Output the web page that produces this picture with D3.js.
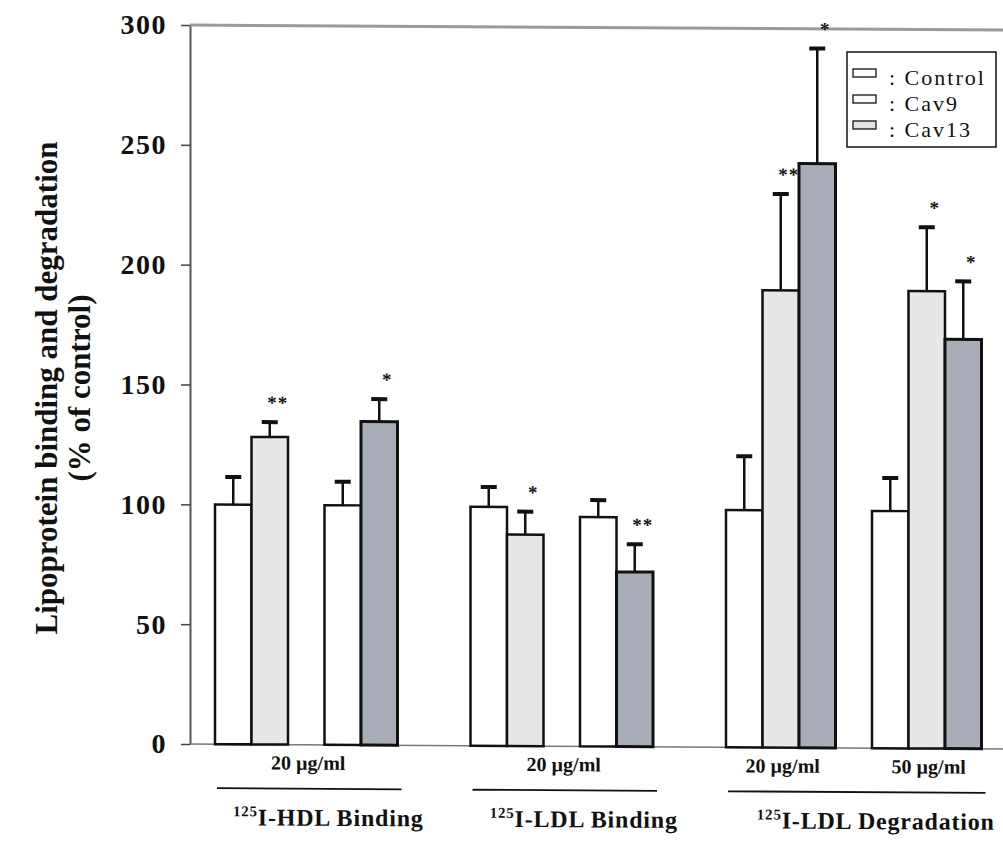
<!DOCTYPE html>
<html>
<head>
<meta charset="utf-8">
<script src="https://cdn.jsdelivr.net/npm/d3@7"></script>
<style>
  body { margin: 0; background: #fff; }
  text { font-family: "Liberation Serif", "Times New Roman", serif; }
</style>
</head>
<body>
<svg id="chart" width="1003" height="845"></svg>
<script>
// ---- data ----
const seriesNames = ["Control", "Cav9", "Cav13"];
const assayNames = ["HDL Binding", "LDL Binding", "LDL Degradation"];
// each cluster of adjacent bars: its assay, dose and the series it shows
const clusterAssay = [0, 0, 1, 1, 2, 2];
const clusterDose = ["20 µg/ml", "20 µg/ml", "20 µg/ml", "20 µg/ml", "20 µg/ml", "50 µg/ml"];
const clusterSeries = [[0, 1], [0, 2], [0, 1], [0, 2], [0, 1, 2], [0, 1, 2]];
// % of control, mean and SD
const clusterMeans = [[100, 128.3], [100, 135], [99.7, 88.2], [95.7, 72.9], [99, 190.8, 243.8], [99, 190.8, 170.8]];
const clusterErrors = [[11.5, 6.2], [9.8, 9.4], [8.3, 9.6], [7.1, 11.6], [22.5, 40.2, 48], [13.8, 26.7, 24.2]];
const clusterSig = [["", "**"], ["", "*"], ["", "*"], ["", "**"], ["", "**", "*"], ["", "*", "*"]];
const yTicks = [0, 50, 100, 150, 200, 250, 300];

// ---- styles ----
const seriesFill = ["#ffffff", "#e7e7e7", "#a9adb7"];
const legendFill = ["#ffffff", "#fbfbfb", "#e2e2e2"];

const svg = d3.select("#chart");
svg.append("rect").attr("width", 1003).attr("height", 845).attr("fill", "#fff");

const y = d3.scaleLinear().domain([0, 300]).range([744, 25]);

// bar slots: one unit per bar, one empty unit between clusters of an assay,
// two between assays
const bars = [];
const clusters = [];
let slot = 0;
clusterSeries.forEach((ser, c) => {
  if (c > 0) slot += clusterAssay[c] === clusterAssay[c - 1] ? 1 : 2;
  const start = slot;
  ser.forEach((s, i) => {
    bars.push({
      slot: slot, series: s,
      mean: clusterMeans[c][i], err: clusterErrors[c][i], sig: clusterSig[c][i]
    });
    slot += 1;
  });
  clusters.push({ start: start, end: slot, assay: clusterAssay[c], dose: clusterDose[c] });
});
const x = d3.scaleLinear().domain([0, slot]).range([215, 215 + slot * 36.5]);

// ---- y axis ----
const yAxis = svg.append("g")
  .attr("transform", "translate(190,0)")
  .call(d3.axisLeft(y).tickValues(yTicks).tickFormat(d3.format("d"))
    .tickSize(9).tickSizeOuter(0).tickPadding(14));
yAxis.select(".domain").attr("stroke", "#555").attr("stroke-width", 2);
yAxis.selectAll(".tick line").attr("stroke", "#444").attr("stroke-width", 1.5);
yAxis.selectAll(".tick text")
  .attr("fill", "#111")
  .style("font-family", "'Liberation Serif', serif")
  .style("font-size", "28px").style("font-weight", "bold")
  .style("letter-spacing", "1.5px");

// y title
const yTitle = svg.append("g").attr("transform", "translate(0,388) rotate(-90)")
  .style("font-weight", "bold").style("font-size", "31px").attr("fill", "#111")
  .attr("text-anchor", "middle");
yTitle.append("text").attr("x", 0).attr("y", 57).text("Lipoprotein binding and degradation");
yTitle.append("text").attr("x", 0).attr("y", 90).text("(% of control)");

// ---- plot body (slightly skewed like the printed sheet) ----
const plot = svg.append("g")
  .attr("transform", "translate(190,0) skewY(0.35) translate(-190,0)");

// frame top and baseline
plot.append("line").attr("x1", 190).attr("x2", 1003).attr("y1", y(300)).attr("y2", y(300))
  .attr("stroke", "#9a9a9a").attr("stroke-width", 3);
plot.append("line").attr("x1", 190).attr("x2", 1003).attr("y1", y(0)).attr("y2", y(0))
  .attr("stroke", "#777").attr("stroke-width", 1.5);

// bars
plot.selectAll("rect.bar").data(bars).join("rect")
  .attr("class", "bar")
  .attr("x", d => x(d.slot))
  .attr("width", d => x(d.slot + 1) - x(d.slot))
  .attr("y", d => y(d.mean))
  .attr("height", d => y(0) - y(d.mean))
  .attr("fill", d => seriesFill[d.series])
  .attr("stroke", "#111")
  .attr("stroke-width", d => d.series === 2 ? 3 : 2.5);

// error bars
const eb = plot.selectAll("g.err").data(bars).join("g").attr("class", "err");
eb.append("line")
  .attr("x1", d => x(d.slot + 0.5)).attr("x2", d => x(d.slot + 0.5))
  .attr("y1", d => y(d.mean)).attr("y2", d => y(d.mean + d.err))
  .attr("stroke", "#111").attr("stroke-width", 2.5);
eb.append("line")
  .attr("x1", d => x(d.slot + 0.5) - 8).attr("x2", d => x(d.slot + 0.5) + 8)
  .attr("y1", d => y(d.mean + d.err)).attr("y2", d => y(d.mean + d.err))
  .attr("stroke", "#111").attr("stroke-width", 4);

// significance marks
plot.selectAll("text.sig").data(bars.filter(d => d.sig)).join("text")
  .attr("class", "sig")
  .attr("x", d => x(d.slot + 0.5) + 8)
  .attr("y", d => y(d.mean + d.err) - 13)
  .attr("text-anchor", "middle")
  .style("font-size", "19px").style("font-weight", "bold")
  .style("letter-spacing", "1px").attr("fill", "#111")
  .text(d => d.sig);

// dose labels: merge neighbouring clusters with the same assay and dose
const doseGroups = [];
clusters.forEach(c => {
  const last = doseGroups[doseGroups.length - 1];
  if (last && last.assay === c.assay && last.dose === c.dose) last.end = c.end;
  else doseGroups.push({ assay: c.assay, dose: c.dose, start: c.start, end: c.end });
});
plot.selectAll("text.dose").data(doseGroups).join("text")
  .attr("class", "dose")
  .attr("x", d => (x(d.start) + x(d.end)) / 2 + 2)
  .attr("y", 769)
  .attr("text-anchor", "middle")
  .style("font-size", "20px").style("font-weight", "bold").attr("fill", "#111")
  .text(d => d.dose);

// assay underlines and names
const assays = assayNames.map((name, i) => {
  const cs = clusters.filter(c => c.assay === i);
  return { name: name, start: d3.min(cs, c => c.start), end: d3.max(cs, c => c.end) };
});
plot.selectAll("line.assay").data(assays).join("line")
  .attr("class", "assay")
  .attr("x1", d => x(d.start) + 2).attr("x2", d => x(d.end) + 4)
  .attr("y1", 788).attr("y2", 788)
  .attr("stroke", "#111").attr("stroke-width", 1.8);
const aLab = plot.selectAll("text.assayname").data(assays).join("text")
  .attr("class", "assayname")
  .attr("x", d => (x(d.start) + x(d.end)) / 2 + 22)
  .attr("y", 825)
  .attr("text-anchor", "middle")
  .style("font-size", "24px").style("font-weight", "bold")
  .style("letter-spacing", "0.8px").attr("fill", "#111");
aLab.append("tspan").style("font-size", "15px").attr("dy", -9).text("125");
aLab.append("tspan").attr("dy", 9).text(d => "I-" + d.name);

// ---- legend ----
const legend = svg.append("g");
legend.append("rect").attr("x", 847).attr("y", 52).attr("width", 149).attr("height", 95)
  .attr("fill", "#fff").attr("stroke", "#111").attr("stroke-width", 1.5);
legend.append("clipPath").attr("id", "legclip")
  .append("rect").attr("x", 847).attr("y", 52).attr("width", 149).attr("height", 82);
const li = legend.selectAll("g.item").data(seriesNames).join("g").attr("class", "item")
  .attr("transform", (d, i) => `translate(0,${i * 26})`);
li.append("rect").attr("x", 853).attr("y", 69).attr("width", 23).attr("height", 8)
  .attr("fill", (d, i) => legendFill[i]).attr("stroke", "#111").attr("stroke-width", 1.3);
li.append("text").attr("x", 889).attr("y", 85)
  .attr("clip-path", "url(#legclip)")
  .style("font-size", "22px").style("letter-spacing", "2px").attr("fill", "#111")
  .text(d => ": " + d);
</script>
</body>
</html>
